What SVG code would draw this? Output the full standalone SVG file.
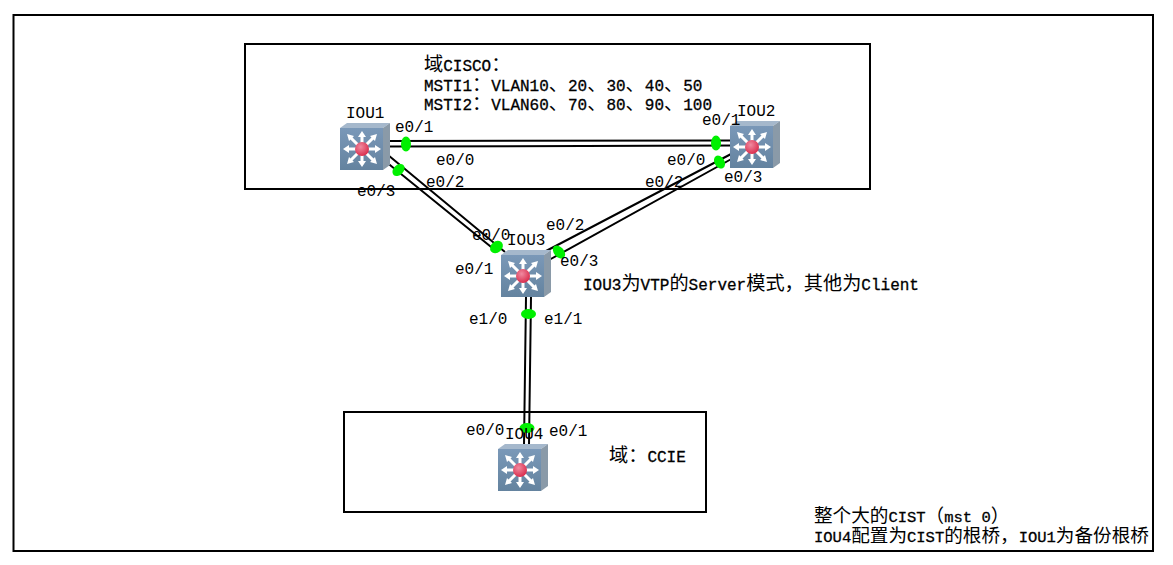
<svg xmlns="http://www.w3.org/2000/svg" xmlns:xlink="http://www.w3.org/1999/xlink" width="1173" height="565" viewBox="0 0 1173 565">
<style>
.box{fill:none;stroke:#000;stroke-width:2}
.link{fill:none;stroke:#000;stroke-width:2}
.dot{fill:#00f000}
.lbl{font-family:"Liberation Mono","Noto Sans CJK SC",monospace;font-size:16px;fill:#000}
.t{font-family:"Liberation Mono","Noto Sans CJK SC",monospace;font-size:16px;fill:#000;stroke:#000;stroke-width:.3}
.b{font-size:15.5px}
.c{font-family:"Noto Sans CJK SC","Liberation Mono",monospace;font-size:19.2px;stroke:none}
.b .c{font-size:18.6px}
</style>
<defs>
<linearGradient id="face" x1="0" y1="0" x2="0" y2="1"><stop offset="0" stop-color="#7a98b8"/><stop offset="1" stop-color="#64839f"/></linearGradient>
<radialGradient id="red" cx="0.4" cy="0.35" r="0.7"><stop offset="0" stop-color="#f08aa0"/><stop offset="1" stop-color="#d82848"/></radialGradient>
<g id="sw">
<path d="M0 -16 L7 -21 L50 -21 L43 -16 Z" fill="#a5b8cc"/>
<path d="M43 -16 L50 -21 L50 21 L43 26 Z" fill="#8a9aa8"/>
<rect x="0" y="-16" width="43" height="42" fill="url(#face)"/>
<g stroke="#fff" stroke-width="3" fill="#fff">
<path d="M22 5 L22 -8 M22 5 L22 18 M22 5 L8 5 M22 5 L36 5 M22 5 L11 -6 M22 5 L33 -6 M22 5 L11 16 M22 5 L33 16" fill="none"/>
<path d="M22 -13 l-4 6 h8z M22 23 l-4 -6 h8z M3 5 l6 -4 v8z M41 5 l-6 -4 v8z M7 -10 l2 7 l5 -5z M37 -10 l-2 7 l-5 -5z M7 20 l2 -7 l5 5z M37 20 l-2 -7 l-5 5z" stroke="none"/>
</g>
<circle cx="22" cy="5" r="7" fill="url(#red)"/>
</g>
</defs>
<rect width="1173" height="565" fill="#fff"/>
<g id="frames">
<rect class="box" x="13.5" y="15" width="1139.5" height="536"/>
<rect class="box" x="245" y="44" width="625" height="145"/>
<rect class="box" x="344" y="412" width="362" height="100"/>
</g>
<g id="connectors">
<path class="link" d="M385 141 L735 140.5 M385 146.5 L735 145.5"/>
<path class="link" d="M388 155 L505 252 M385 161 L493 248.500"/>
<path class="link" d="M733 153 L546 251 M735 157 L549 260"/>
<path class="link" d="M526 297 L524 445 M531 297 L529 445"/>
<ellipse class="dot" cx="406" cy="144" rx="5" ry="7.5"/>
<ellipse class="dot" cx="716" cy="143" rx="5" ry="7.5"/>
<ellipse class="dot" cx="398.500" cy="170" rx="5" ry="7" transform="rotate(45 398.500 170)"/>
<ellipse class="dot" cx="719.500" cy="162" rx="5" ry="7" transform="rotate(-30 719.500 162)"/>
<ellipse class="dot" cx="496.500" cy="247" rx="5.500" ry="7" transform="rotate(50 496.500 247)"/>
<ellipse class="dot" cx="559" cy="252" rx="5" ry="7.500" transform="rotate(-40 559 252)"/>
<ellipse class="dot" cx="528.500" cy="314" rx="7.500" ry="5"/>
<ellipse class="dot" cx="527" cy="428" rx="7.500" ry="5"/>
</g>
<g id="IOU1"><use xlink:href="#sw" href="#sw" x="340" y="144"/><text class="lbl" x="346" y="118">IOU1</text></g>
<g id="IOU2"><use xlink:href="#sw" href="#sw" x="730" y="142"/><text class="lbl" x="737" y="116">IOU2</text></g>
<g id="IOU3"><use xlink:href="#sw" href="#sw" x="501" y="271"/><text class="lbl" x="507" y="245">IOU3</text></g>
<g id="IOU4"><use xlink:href="#sw" href="#sw" x="498" y="465"/><text class="lbl" x="505" y="439">IOU4</text></g>
<g id="labels">
<text class="lbl" x="395" y="132">e0/1</text>
<text class="lbl" x="436" y="165">e0/0</text>
<text class="lbl" x="426" y="187">e0/2</text>
<text class="lbl" x="357" y="196">e0/3</text>
<text class="lbl" x="702" y="125">e0/1</text>
<text class="lbl" x="667" y="165">e0/0</text>
<text class="lbl" x="645" y="187">e0/2</text>
<text class="lbl" x="724" y="182">e0/3</text>
<text class="lbl" x="472" y="240">e0/0</text>
<text class="lbl" x="455" y="274">e0/1</text>
<text class="lbl" x="546" y="230">e0/2</text>
<text class="lbl" x="560" y="266">e0/3</text>
<text class="lbl" x="469" y="324">e1/0</text>
<text class="lbl" x="544" y="324">e1/1</text>
<text class="lbl" x="466" y="435">e0/0</text>
<text class="lbl" x="549" y="436">e0/1</text>
<text class="t" x="424" y="71"><tspan class="c">域</tspan>CISCO<tspan class="c">：</tspan></text>
<text class="t" x="424" y="91">MSTI1<tspan class="c">：</tspan>VLAN10<tspan class="c">、</tspan>20<tspan class="c">、</tspan>30<tspan class="c">、</tspan>40<tspan class="c">、</tspan>50</text>
<text class="t" x="424" y="110">MSTI2<tspan class="c">：</tspan>VLAN60<tspan class="c">、</tspan>70<tspan class="c">、</tspan>80<tspan class="c">、</tspan>90<tspan class="c">、</tspan>100</text>
<text class="t" x="583" y="290">IOU3<tspan class="c">为</tspan>VTP<tspan class="c">的</tspan>Server<tspan class="c">模式，其他为</tspan>Client</text>
<text class="t" x="609" y="462"><tspan class="c">域：</tspan>CCIE</text>
<text class="t b" x="814" y="522"><tspan class="c">整个大的</tspan>CIST<tspan class="c">（</tspan>mst 0<tspan class="c">）</tspan></text>
<text class="t b" x="814" y="542">IOU4<tspan class="c">配置为</tspan>CIST<tspan class="c">的根桥，</tspan>IOU1<tspan class="c">为备份根桥</tspan></text>
</g>
</svg>
